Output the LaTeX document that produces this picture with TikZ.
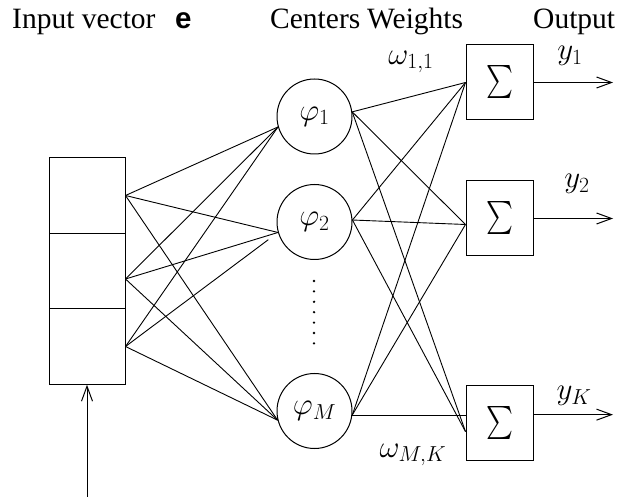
\RequirePackage{fix-cm}
\documentclass[tikz,border=0pt]{standalone}
\usepackage{amsmath}
\usepackage{graphicx}
\usepackage[no-math]{fontspec}
\setmainfont{Liberation Serif}
\newfontfamily\timesfont{Liberation Serif}
\newfontfamily\vecfont{Liberation Sans}
\usetikzlibrary{arrows.meta}

\begin{document}
\begin{tikzpicture}[
    x=1pt, y=-1pt,
    font=\timesfont\fontsize{29.5}{35}\selectfont,
    >={Straight Barb[length=15pt,width=11pt]},
    heading/.style={anchor=base west, inner sep=0pt},
    mathlabel/.style={font=\fontsize{31}{37}\selectfont},
    cell/.style={rectangle, draw, line width=1pt, minimum width=76pt, minimum height=75.5pt, inner sep=0pt},
    rbfnode/.style={circle, draw, line width=1pt, minimum size=75pt, inner sep=0pt, mathlabel},
    sumbox/.style={rectangle, draw, line width=1pt, minimum width=67pt, minimum height=75pt, inner sep=0pt},
    link/.style={line width=0.9pt},
    arrow/.style={->, line width=1pt}
    ]
    \useasboundingbox (0,0) rectangle (619,497);

    % column headings
    \node[heading] (hinput) at (12,29) {Input vector};
    \node[heading] (hvec) at (175,29) {\vecfont\bfseries e};
    \node[heading] (hcenters) at (270,29) {Centers};
    \node[heading] (hweights) at (367,29) {Weights};
    \node[heading] (houtput) at (533,29) {Output};

    % input vector
    \node[cell] (in1) at (87,195.5) {};
    \node[cell] (in2) at (87,271) {};
    \node[cell] (in3) at (87,346.5) {};
    \coordinate (feed) at (87,497);

    % hidden units
    \node[rbfnode] (c1) at (314.5,116.5) {$\varphi_1$};
    \node[rbfnode] (c2) at (314.5,222) {$\varphi_2$};
    \node[rbfnode] (cM) at (314.5,411) {$\varphi_M$};
    \foreach \k in {0,...,6}
        \fill (314,281+10.4*\k) circle (1.3pt);

    % summing units
    \node[sumbox] (s1) at (499.5,82.5) {\resizebox*{27pt}{33pt}{$\sum$}};
    \node[sumbox] (s2) at (499.5,218.5) {\resizebox*{27pt}{33pt}{$\sum$}};
    \node[sumbox] (sK) at (499.5,422.5) {\resizebox*{27pt}{33pt}{$\sum$}};
    \coordinate (oend) at (613,0);

    \node[mathlabel] (w11) at (411,62) {$\omega_{1,1}$};
    \node[mathlabel] (wMK) at (413,455) {$\omega_{M,K}$};
    \node[mathlabel] (y1) at (570,56) {$y_1$};
    \node[mathlabel] (y2) at (577,184) {$y_2$};
    \node[mathlabel] (yK) at (574,396) {$y_K$};

    % input -> centers
    \draw[link] (in1.east) -- (c1.196);
    \draw[link] (in1.east) -- (c2.196);
    \draw[link] (in1.east) -- (cM.194);
    \draw[link] ([yshift=-8pt]in2.east) -- (c1.196);
    \draw[link] ([yshift=-8pt]in2.east) -- (c2.196);
    \draw[link] ([yshift=-8pt]in2.east) -- (cM.194);
    \draw[link] (in3.east) -- (c1.196);
    \draw[link, shorten >=12pt] (in3.east) -- (c2.196);
    \draw[link] (in3.east) -- (cM.194);

    % centers -> outputs
    \draw[link] (c1.7) -- (s1.west);
    \draw[link] (c1.7) -- (s2.190);
    \draw[link] (c1.7) -- (sK.195);
    \draw[link] (c2.3) -- (s1.west);
    \draw[link] (c2.3) -- (s2.190);
    \draw[link] (c2.3) -- (sK.195);
    \draw[link] (cM.-6) -- (s1.west);
    \draw[link] (cM.-6) -- (s2.190);
    \draw[link] (cM.-6) -- (cM.-6 -| sK.west);

    \draw[arrow] (feed) -- (in3.south);
    \draw[arrow] (s1.east) -- (s1.east -| oend);
    \draw[arrow] (s2.east) -- (s2.east -| oend);
    \draw[arrow] (sK.13) -- (sK.13 -| oend);
\end{tikzpicture}
\end{document}
